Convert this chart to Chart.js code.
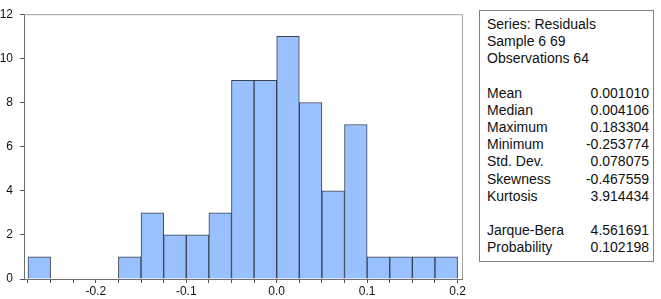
<!DOCTYPE html>
<html>
<head>
<meta charset="utf-8">
<script src="https://cdn.jsdelivr.net/npm/chart.js@4"></script>
<style>
  html, body { margin: 0; padding: 0; background: #fff; }
  #wrap { position: relative; width: 661px; height: 299px; }
  #chart { position: absolute; left: 0; top: 0; }
  #stats {
    position: absolute; left: 479px; top: 10px; width: 175px; height: 252px;
    border: 1px solid #808080; box-sizing: border-box;
    font-family: "Liberation Sans", Arial, sans-serif; font-size: 14px; color: #111;
    padding: 5px 4px 0 7px; line-height: 17.2px;
  }
  #stats .row { display: flex; justify-content: space-between; }
  #stats .gap { height: 17px; }
</style>
</head>
<body>
<div id="wrap">
  <canvas id="chart" width="470" height="299"></canvas>
  <div id="stats"></div>
</div>
<script>
// histogram bins (left edges), width 0.025
const binStarts = [-0.275, -0.25, -0.225, -0.2, -0.175, -0.15, -0.125, -0.1, -0.075, -0.05,
  -0.025, 0, 0.025, 0.05, 0.075, 0.1, 0.125, 0.15, 0.175];
const counts = [1, 0, 0, 0, 1, 3, 2, 2, 3, 9, 9, 11, 8, 4, 7, 1, 1, 1, 1];
const binWidth = 0.025;
const yTicks = [0, 2, 4, 6, 8, 10, 12];

const headerLines = ["Series: Residuals", "Sample 6 69", "Observations 64"];
const statLabels = ["Mean", "Median", "Maximum", "Minimum", "Std. Dev.", "Skewness", "Kurtosis"];
const statValues = ["0.001010", "0.004106", "0.183304", "-0.253774", "0.078075", "-0.467559", "3.914434"];
const testLabels = ["Jarque-Bera", "Probability"];
const testValues = ["4.561691", "0.102198"];

// stats box
const box = document.getElementById("stats");
function addRow(l, v) {
  let r = document.createElement("div");
  r.className = "row";
  let a = document.createElement("span");
  a.innerText = l;
  r.appendChild(a);
  if (v !== undefined) {
    let b = document.createElement("span");
    b.innerText = v;
    r.appendChild(b);
  }
  box.appendChild(r);
}
function addGap() {
  let g = document.createElement("div");
  g.className = "gap";
  box.appendChild(g);
}
headerLines.forEach(h => addRow(h));
addGap();
statLabels.forEach((l, i) => addRow(l, statValues[i]));
addGap();
testLabels.forEach((l, i) => addRow(l, testValues[i]));

// chart
const points = binStarts.map((s, i) => ({ x: s + binWidth / 2, y: counts[i] }));
const tickFont = { family: "'Liberation Sans', Arial, sans-serif", size: 12 };

const framePlugin = {
  id: "frame",
  afterDraw(chart) {
    const { ctx, chartArea: { left, top, right, bottom } } = chart;
    ctx.save();
    ctx.strokeStyle = "#a0a0a0";
    ctx.lineWidth = 1;
    ctx.beginPath();
    ctx.moveTo(left, top + 0.5);
    ctx.lineTo(right + 0.5, top + 0.5);
    ctx.lineTo(right + 0.5, bottom);
    ctx.stroke();
    ctx.restore();
  },
};

new Chart(document.getElementById("chart"), {
  type: "bar",
  data: {
    datasets: [
      {
        data: points,
        backgroundColor: "#99c0ff",
        borderColor: "#3a4150",
        borderWidth: 1,
        barPercentage: 1,
        categoryPercentage: 1,
        borderSkipped: "bottom",
      },
    ],
  },
  plugins: [framePlugin],
  options: {
    responsive: false,
    animation: false,
    layout: { padding: { left: 0, top: 9, right: 8, bottom: 0 } },
    plugins: { legend: { display: false }, tooltip: { enabled: false } },
    scales: {
      x: {
        type: "linear",
        offset: false,
        min: -0.2794,
        max: 0.2049,
        afterBuildTicks(scale) {
          scale.ticks = binStarts.concat([0.2]).map(v => ({ value: v }));
        },
        afterFit(scale) { scale.height = 20; },
        ticks: {
          autoSkip: false,
          maxRotation: 0,
          color: "#111",
          font: tickFont,
          padding: 1,
          callback(v) {
            const k = Math.round(v * 1000);
            if (k % 100 !== 0) return "";
            return (k / 1000).toFixed(1);
          },
        },
        grid: { offset: false, drawOnChartArea: false, tickLength: 4, color: "#555" },
        border: { color: "#707070" },
      },
      y: {
        min: 0,
        max: 12,
        afterBuildTicks(scale) {
          scale.ticks = yTicks.map(v => ({ value: v }));
        },
        afterFit(scale) { scale.width = 24; },
        ticks: { color: "#111", font: tickFont, padding: 7 },
        grid: { drawOnChartArea: false, tickLength: 4, color: "#555" },
        border: { color: "#707070" },
      },
    },
  },
});
</script>
</body>
</html>
